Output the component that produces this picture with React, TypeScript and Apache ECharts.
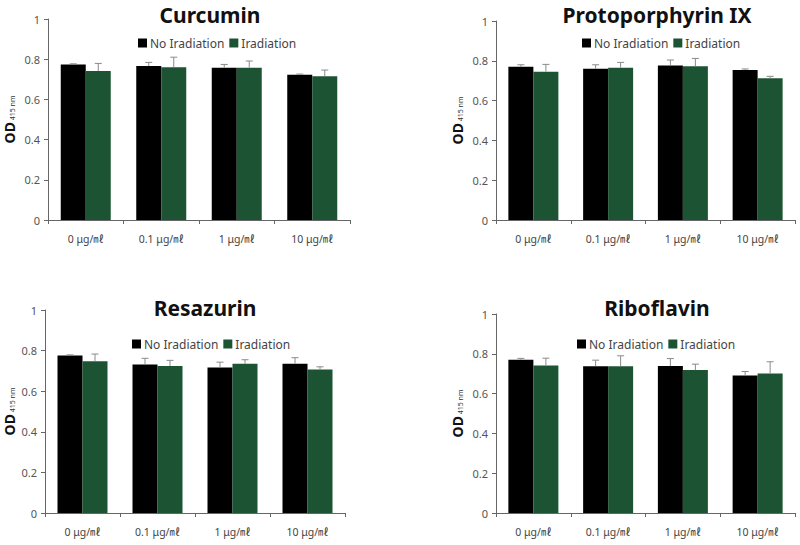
import React, { useEffect, useRef } from "react";
import * as echarts from "echarts";

const categories = ["0 μg/㎖", "0.1 μg/㎖", "1 μg/㎖", "10 μg/㎖"];
const panelTitles = ["Curcumin", "Protoporphyrin IX", "Resazurin", "Riboflavin"];
const seriesNames = ["No Iradiation", "Iradiation"];
const yTicks = [0, 0.2, 0.4, 0.6, 0.8, 1];

// Curcumin
const curcuminNo = [0.774, 0.766, 0.758, 0.723];
const curcuminNoErr = [0.003, 0.018, 0.016, 0.003];
const curcuminIr = [0.741, 0.76, 0.758, 0.715];
const curcuminIrErr = [0.038, 0.05, 0.033, 0.031];
// Protoporphyrin IX
const protoNo = [0.77, 0.76, 0.776, 0.754];
const protoNoErr = [0.01, 0.02, 0.028, 0.005];
const protoIr = [0.745, 0.765, 0.772, 0.712];
const protoIrErr = [0.037, 0.027, 0.04, 0.01];
// Resazurin
const resaNo = [0.776, 0.732, 0.717, 0.735];
const resaNoErr = [0.003, 0.03, 0.026, 0.03];
const resaIr = [0.747, 0.724, 0.735, 0.707];
const resaIrErr = [0.036, 0.028, 0.02, 0.013];
// Riboflavin
const riboNo = [0.77, 0.738, 0.739, 0.691];
const riboNoErr = [0.007, 0.03, 0.037, 0.02];
const riboIr = [0.741, 0.738, 0.718, 0.701];
const riboIrErr = [0.037, 0.052, 0.03, 0.059];

const panelData = [
  [curcuminNo, curcuminNoErr, curcuminIr, curcuminIrErr],
  [protoNo, protoNoErr, protoIr, protoIrErr],
  [resaNo, resaNoErr, resaIr, resaIrErr],
  [riboNo, riboNoErr, riboIr, riboIrErr],
];

const COLORS = ["#000000", "#1c5433"];
const grids = [
  { left: 48, top: 19, width: 302, height: 201 },
  { left: 496, top: 21, width: 299, height: 199 },
  { left: 45, top: 310, width: 300, height: 203 },
  { left: 496, top: 314, width: 299, height: 199 },
];
const nameGaps = [32, 32, 29, 32];
const titlePos = [
  { x: 205, y: -1 },
  { x: 652, y: -1 },
  { x: 200, y: 292 },
  { x: 652, y: 292 },
];
const legendPos = [
  { x: 133, y: 32 },
  { x: 577, y: 32 },
  { x: 127, y: 333 },
  { x: 572, y: 333 },
];

const BAR_W = 25;

export default function App() {
  const ref = useRef<HTMLDivElement>(null);
  useEffect(() => {
    if (!ref.current) return;
    const chart = echarts.init(ref.current, undefined, { renderer: "svg" });
    const font = "'Noto Sans', 'Noto Sans CJK KR', sans-serif";

    const series: any[] = [];
    panelData.forEach((pd, p) => {
      [0, 1].forEach((s) => {
        const vals = pd[s * 2];
        const errs = pd[s * 2 + 1];
        series.push({
          name: seriesNames[s],
          type: "bar",
          xAxisIndex: p,
          yAxisIndex: p,
          data: vals,
          barWidth: BAR_W,
          barGap: "0%",
          itemStyle: { color: COLORS[s] },
          z: 2,
        });
        const offset = s === 0 ? -BAR_W / 2 : BAR_W / 2;
        series.push({
          type: "custom",
          xAxisIndex: p,
          yAxisIndex: p,
          data: vals.map((v, i) => [i, v, v + errs[i]]),
          z: 3,
          silent: true,
          renderItem: (params: any, api: any) => {
            const i = api.value(0);
            const lo = api.coord([i, api.value(1)]);
            const hi = api.coord([i, api.value(2)]);
            const x = lo[0] + offset;
            const style = { stroke: "#8a8a8a", lineWidth: 1 };
            return {
              type: "group",
              children: [
                { type: "line", shape: { x1: x, y1: lo[1], x2: x, y2: hi[1] }, style },
                { type: "line", shape: { x1: x - 3.5, y1: hi[1], x2: x + 3.5, y2: hi[1] }, style },
              ],
            };
          },
        });
      });
    });

    chart.setOption({
      animation: false,
      backgroundColor: "#ffffff",
      title: panelTitles.map((t, p) => ({
        text: t,
        left: titlePos[p].x,
        top: titlePos[p].y,
        textAlign: "center",
        textStyle: { fontFamily: font, fontWeight: "bold", fontSize: 21, color: "#111" },
      })),
      legend: legendPos.map((l) => ({
        data: seriesNames,
        left: l.x,
        top: l.y,
        itemWidth: 9,
        itemHeight: 9,
        itemGap: 5,
        icon: "rect",
        textStyle: { fontFamily: font, fontSize: 12, color: "#444", padding: [0, 0, 0, -2] },
      })),
      grid: grids,
      xAxis: grids.map((_, p) => ({
        type: "category",
        gridIndex: p,
        data: categories,
        axisLine: { lineStyle: { color: "#666" } },
        axisTick: { show: true, length: 4, alignWithLabel: false, lineStyle: { color: "#666" } },
        axisLabel: { fontFamily: font, fontSize: 10.5, color: "#444", margin: 14 },
      })),
      yAxis: grids.map((_, p) => ({
        type: "value",
        gridIndex: p,
        min: 0,
        max: 1,
        interval: 0.2,
        axisLine: { show: true, lineStyle: { color: "#666" } },
        axisTick: { show: true, length: 4, lineStyle: { color: "#666" } },
        splitLine: { show: false },
        axisLabel: {
          fontFamily: font,
          fontSize: 11,
          color: "#555",
          margin: 8,
          formatter: (v: number) => (yTicks.includes(Math.round(v * 10) / 10) ? String(Math.round(v * 10) / 10) : ""),
        },
        name: "{a|OD}{b| 415 nm}",
        nameLocation: "middle",
        nameRotate: 90,
        nameGap: nameGaps[p],
        nameTextStyle: {
          rich: {
            a: { fontFamily: font, fontWeight: "bold", fontSize: 14, color: "#111" },
            b: { fontFamily: font, fontSize: 7, color: "#333", padding: [6, 0, 0, 0] },
          },
        },
      })),
      series,
    });
    return () => chart.dispose();
  }, []);
  return (
    <div
      ref={ref}
      style={{ position: "fixed", left: 0, top: 0, width: 800, height: 545 }}
    />
  );
}
